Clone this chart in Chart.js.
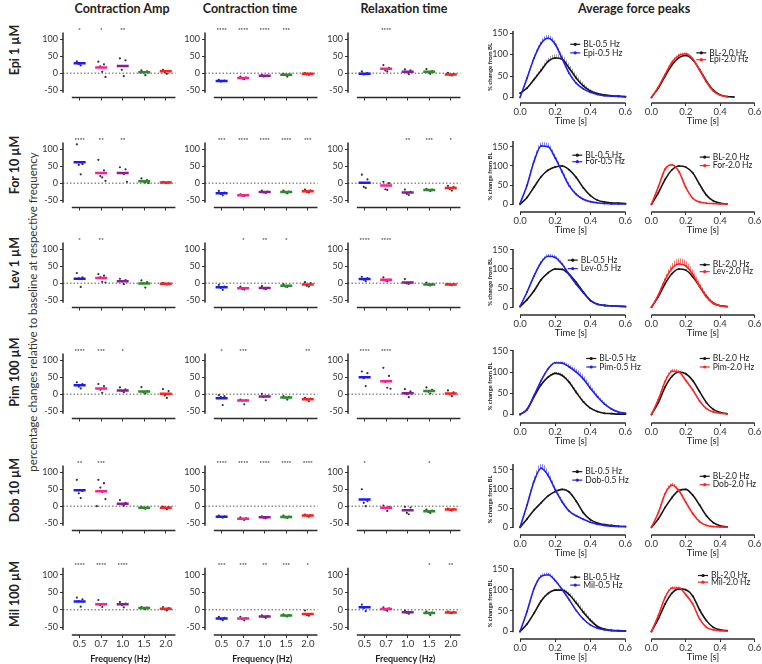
<!DOCTYPE html>
<html>
<head>
<meta charset="utf-8">
<title>Inotrope responses</title>
<script src="https://cdn.jsdelivr.net/npm/chart.js@4.4.1/dist/chart.umd.min.js"></script>
<style>
  body { margin: 0; width: 762px; height: 664px; background: #fff; position: relative; overflow: hidden;
         font-family: Lato, "Open Sans", sans-serif; color: #222; }
  canvas { position: absolute; }
  .lbl { position: absolute; white-space: nowrap; font-weight: bold; }
  .col { top: 1px; font-size: 12.5px; transform: translateX(-50%); }
  .row { left: 14px; font-size: 12.5px; transform: translate(-50%, -50%) rotate(-90deg); }
  .ylab { position: absolute; left: 32px; top: 312px; font-size: 11.5px; white-space: nowrap;
          transform: translate(-50%, -50%) rotate(-90deg); color: #333; }
</style>
</head>
<body>
<div class="lbl col" style="left:122px">Contraction Amp</div>
<div class="lbl col" style="left:250px">Contraction time</div>
<div class="lbl col" style="left:404px">Relaxation time</div>
<div class="lbl col" style="left:634px">Average force peaks</div>
<div class="ylab">percentage changes relative to baseline at respective frequency</div>
<script>
// ---- data ----
const FREQ = ['0.5', '0.7', '1.0', '1.5', '2.0'];
const DRUGS = ['Epi 1 µM', 'For 10 µM', 'Lev 1 µM', 'Pim 100 µM', 'Dob 10 µM', 'Mil 100 µM'];
const DRUG_SHORT = ['Epi', 'For', 'Lev', 'Pim', 'Dob', 'Mil'];
const Y_TICKS = [-50, 0, 50, 100];
const FORCE_Y_TICKS = [0, 50, 100, 150];
const TIME_TICKS = [0, 0.2, 0.4, 0.6];
const T_05 = [0, 0.04, 0.08, 0.12, 0.16, 0.20, 0.24, 0.28, 0.32, 0.36, 0.40, 0.44, 0.48, 0.52, 0.56, 0.60];
const T_20 = [0, 0.04, 0.08, 0.12, 0.16, 0.20, 0.24, 0.28, 0.32, 0.36, 0.40, 0.44, 0.48];

// Contraction amplitude (% change), one row per drug, one entry per frequency
const AMP_MEAN = [[29, 17, 21, 3, 6], [62, 30, 30, 6, 2], [13, 15, 6, -1, -2], [26, 17, 11, 8, 1], [47, 44, 7, -5, -5], [24, 16, 16, 5, 3]];
const AMP_PTS = [
  [[35, 30, 27, 23], [34, 26, 20, 4, -11], [44, 38, 10, -9], [8, 5, 2, -6], [10, 7, 3, -2]],
  [[115, 56, 54, 26], [69, 38, 21, 17, 7], [47, 41, 30, 27, 4], [14, 9, 5, 2, 0], [4, 3, 2, 1]],
  [[30, 17, 14, -11], [27, 22, 18, 4, 2], [13, 9, 6, -3], [8, 3, 0, -13], [1, -1, -3, -4]],
  [[35, 30, 22, 17], [30, 24, 13, 4], [20, 14, 10, 6], [21, 8, 5, 2], [15, 9, -4, -11]],
  [[78, 45, 38, 24], [78, 68, 55, 42, 21, 0], [18, 10, 5, 1], [-2, -4, -6, -8], [-1, -3, -6, -9]],
  [[35, 30, 25, 9], [28, 16, 13, 8], [22, 18, 13, 7], [8, 6, 4, 2], [8, 5, 1, -2]]];
const AMP_STARS = [['*', '*', '**', '', ''], ['****', '**', '**', '', ''], ['*', '**', '', '', ''],
  ['****', '***', '*', '', ''], ['**', '***', '', '', ''], ['****', '****', '****', '', '']];

// Contraction time
const CT_MEAN = [[-23, -14, -8, -5, -2], [-30, -36, -26, -26, -24], [-12, -15, -14, -8, -4], [-12, -19, -7, -10, -15], [-31, -37, -33, -32, -28], [-25, -25, -19, -16, -12]];
const CT_PTS = [
  [[-20, -22, -25, -24], [-10, -13, -16, -18], [-6, -8, -10, -9], [-2, -4, -6, -10], [0, -2, -4, -5]],
  [[-23, -28, -32, -36], [-33, -35, -37, -38], [-22, -25, -27, -29], [-22, -25, -27, -30], [-19, -21, -26, -28]],
  [[-5, -10, -14, -20], [-10, -15, -17, -19], [-9, -14, -16, -18], [-3, -8, -10, -11], [3, 0, -8, -10]],
  [[-3, -6, -8, -32], [-16, -18, -19, -30], [1, -5, -8, -18], [-6, -8, -11, -16], [-11, -13, -16, -21]],
  [[-28, -30, -32, -34], [-33, -36, -38, -41], [-30, -32, -34, -36], [-28, -31, -33, -35], [-25, -27, -29, -31]],
  [[-20, -23, -27, -30], [-20, -24, -27, -30], [-16, -18, -20, -23], [-13, -15, -17, -19], [-2, -12, -15, -17]]];
const CT_STARS = [['****', '****', '****', '***', ''], ['***', '****', '****', '****', '***'], ['', '*', '**', '*', ''],
  ['*', '***', '', '', '**'], ['****', '****', '****', '****', '****'], ['***', '***', '**', '***', '*']];

// Relaxation time
const RT_MEAN = [[-2, 13, 4, 4, -4], [1, -7, -28, -20, -14], [12, 10, 2, -4, -4], [50, 38, 3, 9, 2], [20, -5, -12, -15, -10], [7, 2, -7, -9, -8]];
const RT_PTS = [
  [[5, 0, -4, -3], [24, 16, 8, 5], [11, 8, 2, -3], [12, 6, 2, -2], [1, -2, -5, -7]],
  [[25, 11, -11, -14], [4, 0, -18, -20], [-19, -26, -32, -35], [-17, -19, -21, -23], [-8, -11, -17, -22]],
  [[19, 15, 10, 6], [17, 10, 8, 6], [12, 2, -1, -2], [2, -3, -5, -7], [-2, -3, -5, -6]],
  [[67, 62, 47, 24], [78, 54, 36, 19, 16], [15, 8, 0, -9], [20, 13, 7, 2], [11, 5, 0, -6]],
  [[50, 15, 10, 0], [2, -2, -6, -14], [-2, -4, -20, -24], [-10, -13, -17, -20], [-7, -9, -11, -13]],
  [[15, 8, 5, -4], [7, 4, 0, -3], [-2, -6, -9, -11], [-5, -8, -10, -15], [-5, -7, -9, -10]]];
const RT_STARS = [['', '****', '', '', ''], ['', '', '**', '***', '*'], ['****', '****', '', '', ''],
  ['****', '****', '', '', ''], ['*', '', '', '*', ''], ['', '', '', '*', '**']];

// Average force peaks (% of baseline peak), 0.5 Hz
const BL_05 = [
  [10, 22, 42, 63, 84, 92, 89, 68, 45, 27, 15, 9, 6, 4, 3, 2],
  [0, 18, 45, 72, 89, 97, 100, 90, 70, 43, 23, 11, 6, 4, 3, 2],
  [2, 20, 43, 72, 90, 100, 99, 86, 65, 40, 18, 8, 5, 4, 3, 2],
  [0, 12, 42, 70, 88, 97, 92, 76, 52, 30, 15, 7, 3, 2, 1, 1],
  [0, 22, 45, 64, 82, 93, 99, 92, 68, 38, 20, 11, 7, 5, 3, 2],
  [0, 18, 44, 73, 91, 99, 99, 88, 68, 46, 27, 12, 6, 3, 2, 1]];
const BL_ERR_05 = [
  [0, 2, 4, 6, 8, 9, 10, 10, 9, 7, 4, 2, 1, 1, 1, 0],
  [0, 1, 2, 2, 2, 2, 2, 2, 3, 3, 2, 1, 1, 0, 0, 0],
  [0, 1, 2, 2, 2, 2, 2, 2, 2, 2, 1, 1, 0, 0, 0, 0],
  [0, 1, 2, 3, 3, 3, 4, 5, 6, 5, 3, 2, 1, 0, 0, 0],
  [0, 1, 2, 2, 2, 2, 2, 3, 3, 2, 2, 1, 1, 0, 0, 0],
  [0, 1, 2, 3, 3, 3, 4, 6, 8, 8, 6, 3, 1, 0, 0, 0]];
const DRUG_05 = [
  [0, 45, 92, 126, 138, 124, 90, 56, 33, 20, 12, 7, 4, 3, 2, 1],
  [2, 50, 112, 152, 150, 121, 84, 48, 26, 13, 7, 4, 2, 1, 1, 1],
  [2, 40, 82, 117, 133, 130, 112, 85, 60, 38, 18, 8, 5, 4, 3, 2],
  [0, 12, 45, 80, 108, 122, 121, 112, 100, 84, 62, 42, 25, 13, 6, 3],
  [0, 58, 120, 154, 135, 98, 66, 42, 30, 21, 13, 8, 5, 3, 2, 2],
  [0, 48, 103, 132, 136, 122, 100, 76, 50, 30, 16, 8, 4, 2, 1, 1]];
const DRUG_ERR_05 = [
  [0, 3, 5, 7, 8, 7, 6, 4, 3, 2, 1, 1, 0, 0, 0, 0],
  [0, 4, 8, 10, 10, 8, 8, 6, 4, 2, 1, 1, 0, 0, 0, 0],
  [0, 2, 4, 5, 6, 6, 5, 4, 3, 2, 1, 1, 0, 0, 0, 0],
  [0, 1, 2, 3, 3, 3, 4, 6, 8, 9, 8, 6, 4, 2, 1, 0],
  [0, 5, 10, 14, 12, 8, 6, 4, 3, 2, 1, 1, 0, 0, 0, 0],
  [0, 2, 4, 5, 5, 4, 3, 2, 2, 1, 1, 0, 0, 0, 0, 0]];

// Average force peaks, 2.0 Hz
const BL_20 = [
  [0, 22, 50, 76, 93, 98, 88, 65, 38, 17, 6, 2, 1],
  [0, 30, 65, 90, 100, 97, 82, 52, 24, 9, 3, 1],
  [0, 28, 62, 88, 100, 97, 80, 55, 28, 11, 4, 2],
  [0, 28, 65, 90, 100, 96, 80, 54, 28, 12, 5, 2],
  [0, 22, 52, 78, 96, 99, 84, 58, 30, 12, 4, 1],
  [0, 30, 66, 92, 102, 100, 85, 52, 26, 10, 4, 2]];
const DRUG_20 = [
  [0, 24, 54, 82, 98, 102, 90, 64, 36, 15, 5, 2],
  [0, 45, 92, 103, 85, 44, 16, 6, 3, 2, 1, 1],
  [0, 32, 72, 102, 113, 108, 86, 55, 27, 10, 4, 2],
  [0, 35, 78, 102, 100, 80, 58, 32, 14, 6, 3, 1],
  [0, 38, 88, 110, 95, 65, 36, 15, 5, 2, 1, 0],
  [0, 38, 82, 104, 104, 88, 66, 30, 10, 4, 2, 1]];
const DRUG_ERR_20 = [
  [0, 2, 3, 4, 4, 3, 2, 2, 1, 1, 0, 0],
  [0, 2, 3, 3, 3, 2, 1, 1, 0, 0, 0, 0],
  [0, 4, 8, 12, 14, 14, 12, 10, 8, 5, 2, 1],
  [0, 2, 4, 6, 5, 4, 3, 2, 1, 1, 0, 0],
  [0, 3, 5, 6, 5, 4, 3, 2, 1, 0, 0, 0],
  [0, 2, 3, 4, 4, 3, 2, 1, 1, 0, 0, 0]];

// ---- styling / layout ----
const FREQ_COLORS = ['#1a1aff', '#ff1f8f', '#8e1a9c', '#2a8c2a', '#ff2020'];
const BLUE = '#1f1fe6', RED = '#ff2222', BLACK = '#151515';
const JITTER = [-0.13, 0.13, -0.04, 0.05, 0.2, -0.2];
const ROW_Y0 = [72, 182, 282, 393, 505, 607];        // pixel row of the zero line
const ROW_LABEL_Y = [50, 165, 263, 372, 490, 594];
const SCAT_AXIS_X = [63, 205, 348];
const F_TOP = [27, 137, 245, 346, 460, 564];
const F_BOT = [103, 212, 315, 423, 535, 639];
const F_YMIN = [-13, -20, -20, -20, -20, -18];
const F_YMAX = [155, 165, 152, 152, 165, 152];
const FORCE_GEOM = [{left: 486, yw: 27, xmin: -0.04, pxs: 175, padR: 32}, {left: 644, yw: 0, xmin: -0.02, pxs: 178, padR: 8}];
// legend anchor: [time, y of first entry, y of second entry] for 0.5 Hz and 2.0 Hz panels
const LEGEND_POS = [
  [[0.314, 124, 104], [0.29, 104, 88]],
  [[0.326, 128, 111], [0.31, 123, 101]],
  [[0.30, 123, 101], [0.31, 111, 93]],
  [[0.405, 132, 112], [0.31, 132, 112]],
  [[0.326, 145, 123], [0.31, 133, 111]],
  [[0.314, 130, 111], [0.30, 134, 118]]];

Chart.defaults.font.family = 'Lato, "Open Sans", sans-serif';
Chart.defaults.color = '#333';

// Prism-like detached axes, significance stars and a small legend
const prismAxes = {
  id: 'prismAxes',
  afterDatasetsDraw(chart, args, o) {
    const {ctx, chartArea: a, scales: {x, y}} = chart;
    ctx.save();
    ctx.strokeStyle = '#2b2b2b';
    ctx.lineWidth = 1.5;
    ctx.beginPath();
    if (o.yLine) {
      ctx.moveTo(a.left, y.getPixelForValue(o.yLine[0]));
      ctx.lineTo(a.left, y.getPixelForValue(o.yLine[1]));
    }
    if (o.xLine) {
      ctx.moveTo(x.getPixelForValue(o.xLine[0]), a.bottom);
      ctx.lineTo(x.getPixelForValue(o.xLine[1]), a.bottom);
    }
    ctx.stroke();
    if (o.stars) {
      ctx.fillStyle = '#333';
      ctx.font = 'bold 6px Lato, sans-serif';
      ctx.textAlign = 'center';
      ctx.textBaseline = 'middle';
      o.stars.forEach((s, i) => {
        if (s) ctx.fillText(s, x.getPixelForValue(i + 1), y.getPixelForValue(o.starY));
      });
    }
    if (o.legend) {
      const L = o.legend;
      ctx.font = '8.5px Lato, "Open Sans", sans-serif';
      ctx.textAlign = 'left';
      ctx.textBaseline = 'middle';
      L.items.forEach((it, i) => {
        const px = x.getPixelForValue(L.pos[0]), py = y.getPixelForValue(L.pos[i + 1]);
        ctx.strokeStyle = it.color;
        ctx.fillStyle = it.color;
        ctx.lineWidth = 1.2;
        ctx.beginPath(); ctx.moveTo(px - 5, py); ctx.lineTo(px + 5, py); ctx.stroke();
        ctx.beginPath(); ctx.arc(px, py, 1.6, 0, Math.PI * 2); ctx.fill();
        ctx.fillStyle = '#222';
        ctx.fillText(it.text, px + 8, py);
      });
    }
    ctx.restore();
  }
};
Chart.register(prismAxes);

function makeCanvas(left, top, w, h) {
  const c = document.createElement('canvas');
  c.width = w; c.height = h;
  c.style.left = left + 'px'; c.style.top = top + 'px';
  c.style.width = w + 'px'; c.style.height = h + 'px';
  document.body.appendChild(c);
  return c.getContext('2d');
}
function noPad(s) { s.paddingLeft = s.paddingRight = s.paddingTop = s.paddingBottom = 0; }
const fixW = w => s => { s.width = w; noPad(s); };
const fixH = h => s => { s.height = h; noPad(s); };
const setTicks = vals => s => { s.ticks = vals.map(v => ({value: v})); };

function hatch(color) {
  const c = document.createElement('canvas');
  c.width = 2; c.height = 1;
  const g = c.getContext('2d');
  g.fillStyle = color;
  g.fillRect(0, 0, 1, 1);
  return g.createPattern(c, 'repeat');
}

function scatterPanel(row, col, means, pts, stars) {
  const ax = SCAT_AXIS_X[col], y0 = ROW_Y0[row];
  const last = row === DRUGS.length - 1;
  const xh = last ? 29 : 6;
  const ctx = makeCanvas(ax - 32, y0 - 54, 32 + 117 + 6, 82 + xh);
  const dots = [];
  pts.forEach((g, i) => g.forEach((v, j) => dots.push({x: i + 1 + JITTER[j], y: v})));
  new Chart(ctx, {
    type: 'scatter',
    data: {datasets: [
      {data: means.map((v, i) => ({x: i + 1, y: v})), pointStyle: 'line', pointRadius: 6,
       pointBorderWidth: 2.5, pointBorderColor: FREQ_COLORS, pointBackgroundColor: FREQ_COLORS},
      {data: dots, pointRadius: 1.1, pointBorderWidth: 0, pointBackgroundColor: '#333'},
      {data: [{x: 0.227, y: 0}, {x: 5.45, y: 0}], showLine: true, pointRadius: 0,
       borderColor: '#555', borderWidth: 1, borderDash: [1.5, 2]}
    ]},
    options: {
      responsive: false, animation: false, events: [],
      layout: {padding: {right: 6}},
      plugins: {legend: {display: false}, tooltip: {enabled: false},
        prismAxes: {yLine: [-58, 120], xLine: [0.636, 5.45], stars, starY: 127}},
      scales: {
        x: {type: 'linear', min: 0.227, max: 5.545, afterBuildTicks: setTicks([1, 2, 3, 4, 5]), afterFit: fixH(xh),
            ticks: {display: last, callback: v => FREQ[v - 1], font: {size: 9.5}, color: '#333', padding: 0, maxRotation: 0, autoSkip: false},
            grid: {drawOnChartArea: false, tickLength: 3, color: '#333'}, border: {display: false},
            title: {display: last, text: 'Frequency (Hz)', font: {size: 9, weight: 'bold'}, padding: 0, color: '#222'}},
        y: {min: -72, max: 138, afterBuildTicks: setTicks(Y_TICKS), afterFit: fixW(32),
            ticks: {font: {size: 9}, color: '#333', padding: 2},
            grid: {drawOnChartArea: false, tickLength: 3, color: '#333'}, border: {display: false}}
      }
    }
  });
}

function forcePanel(row, side) {
  const hz = side ? '2.0 Hz' : '0.5 Hz';
  const times = side ? T_20 : T_05;
  const bl = side ? BL_20[row] : BL_05[row];
  const drug = side ? DRUG_20[row] : DRUG_05[row];
  const blErr = side ? null : BL_ERR_05[row];
  const drugErr = side ? DRUG_ERR_20[row] : DRUG_ERR_05[row];
  const color = side ? RED : BLUE;
  const g = FORCE_GEOM[side];
  const areaW = Math.round((0.62 - g.xmin) * g.pxs);
  const ctx = makeCanvas(g.left, F_TOP[row], g.yw + areaW + g.padR, F_BOT[row] - F_TOP[row] + 24);
  const pts = arr => arr.map((v, i) => ({x: times[i], y: v}));
  const line = (label, arr, c) => ({label, data: pts(arr), borderColor: c, backgroundColor: c, borderWidth: 1.6,
    pointRadius: 0.9, pointBorderWidth: 0, pointBackgroundColor: c, cubicInterpolationMode: 'monotone', fill: false});
  const band = (arr, err, target, pat) => ({data: pts(arr.map((v, i) => v + err[i])), borderColor: 'rgba(0,0,0,0)',
    pointRadius: 0, cubicInterpolationMode: 'monotone', fill: target, backgroundColor: pat});
  const datasets = [
    line(DRUG_SHORT[row] + '-' + hz, drug, color),
    line('BL-' + hz, bl, BLACK),
    band(drug, drugErr, 0, hatch(side ? 'rgba(255,70,70,0.75)' : 'rgba(90,90,255,0.75)'))
  ];
  if (blErr) datasets.push(band(bl, blErr, 1, hatch('rgba(120,120,120,0.7)')));
  new Chart(ctx, {
    type: 'line',
    data: {datasets},
    options: {
      responsive: false, animation: false, events: [],
      layout: {padding: {right: g.padR}},
      plugins: {legend: {display: false}, tooltip: {enabled: false},
        prismAxes: {xLine: [0, 0.6], yLine: side ? null : [-2, F_YMAX[row]],
          legend: {pos: LEGEND_POS[row][side], items: [{text: 'BL-' + hz, color: BLACK}, {text: DRUG_SHORT[row] + '-' + hz, color}]}}},
      scales: {
        x: {type: 'linear', min: g.xmin, max: 0.62, afterBuildTicks: setTicks(TIME_TICKS), afterFit: fixH(24),
            ticks: {callback: v => v.toFixed(1), font: {size: 9.5}, color: '#333', padding: 0, maxRotation: 0, autoSkip: false},
            grid: {drawOnChartArea: false, tickLength: 3, color: '#333'}, border: {display: false},
            title: {display: true, text: 'Time [s]', font: {size: 9.5}, padding: 0, color: '#222'}},
        y: {display: !side, min: F_YMIN[row], max: F_YMAX[row], afterBuildTicks: setTicks(FORCE_Y_TICKS), afterFit: fixW(g.yw),
            ticks: {font: {size: 9}, color: '#333', padding: 2},
            grid: {drawOnChartArea: false, tickLength: 3, color: '#333'}, border: {display: false},
            title: {display: true, text: '% change from BL', font: {size: 6, weight: 'bold'}, padding: 0, color: '#222'}}
      }
    }
  });
}

DRUGS.forEach((name, r) => {
  const d = document.createElement('div');
  d.className = 'lbl row';
  d.style.top = ROW_LABEL_Y[r] + 'px';
  d.textContent = name;
  document.body.appendChild(d);
  scatterPanel(r, 0, AMP_MEAN[r], AMP_PTS[r], AMP_STARS[r]);
  scatterPanel(r, 1, CT_MEAN[r], CT_PTS[r], CT_STARS[r]);
  scatterPanel(r, 2, RT_MEAN[r], RT_PTS[r], RT_STARS[r]);
  forcePanel(r, 0);
  forcePanel(r, 1);
});
</script>
</body>
</html>
